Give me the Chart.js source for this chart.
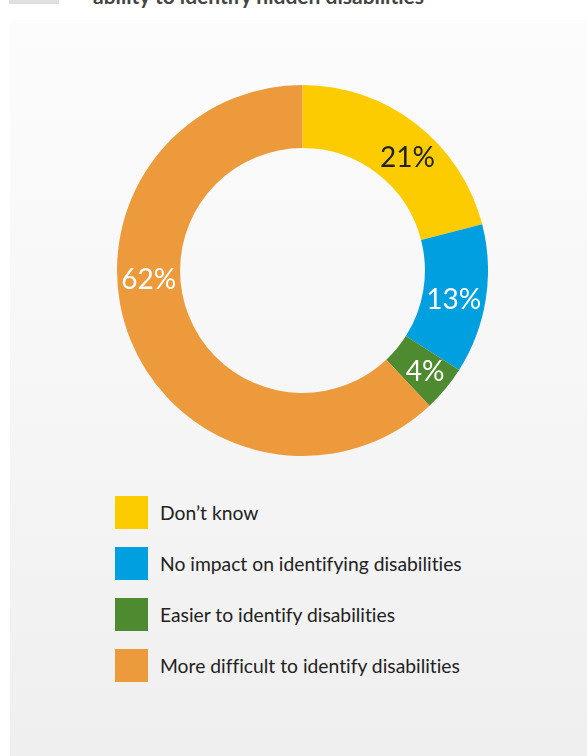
<!DOCTYPE html>
<html>
<head>
<meta charset="utf-8">
<script src="https://cdn.jsdelivr.net/npm/chart.js@4.4.1/dist/chart.umd.min.js"></script>
<style>
  html, body { margin: 0; padding: 0; background: #fff; }
  body { width: 587px; height: 756px; position: relative; overflow: hidden; font-family: Lato, "Open Sans", sans-serif;
         font-variant-ligatures: none; }
  .tab { position: absolute; left: 9px; top: 0; width: 50px; height: 4px; background: #e0e0e0; }
  .title { position: absolute; left: 93px; top: -17px; font-size: 21px; color: #444; font-weight: bold; white-space: nowrap; }
  .panel { position: absolute; left: 10px; top: 20px; right: 0; bottom: 0;
           background: linear-gradient(to bottom, #fcfcfc 0%, #f7f7f7 45%, #eeefee 100%); }
  #donut { position: absolute; left: 117px; top: 85px; }
  .legend { position: absolute; left: 115px; top: 496px; margin: 0; padding: 0; list-style: none; }
  .legend li { height: 33px; margin-bottom: 18px; display: flex; align-items: center; font-size: 19.3px; color: #222; }
  .legend .box { width: 33px; height: 33px; margin-right: 12px; flex: none; }
</style>
</head>
<body>
<div class="tab"></div>
<div class="title">ability to identify hidden disabilities</div>
<div class="panel"></div>
<canvas id="donut" width="371" height="371"></canvas>
<ul class="legend" id="legend"></ul>

<script>
// answers, share of respondents (%)
const categories = [
  "Don\u2019t know",
  "No impact on identifying disabilities",
  "Easier to identify disabilities",
  "More difficult to identify disabilities"
];
const shares = [21, 13, 4, 62];
const sliceColors = ["#fccc00", "#009fdf", "#4e8a2f", "#ec9a3c"];
const labelColors = ["#222222", "#ffffff", "#ffffff", "#ffffff"];

// percentage text inside each ring segment
const ringLabels = {
  id: "ringLabels",
  afterDatasetsDraw(chart, args, opts) {
    const ctx = chart.ctx;
    const meta = chart.getDatasetMeta(0);
    ctx.save();
    ctx.font = opts.font;
    ctx.textAlign = "center";
    ctx.textBaseline = "middle";
    meta.data.forEach((arc, i) => {
      const p = arc.getProps(["x", "y", "startAngle", "endAngle", "innerRadius", "outerRadius"], true);
      let a = (p.startAngle + p.endAngle) / 2;
      if (opts.angles[i] != null) a = (opts.angles[i] - 90) * Math.PI / 180;
      const r = (p.innerRadius + p.outerRadius) / 2 + (opts.shift[i] || 0);
      ctx.fillStyle = labelColors[i];
      ctx.fillText(shares[i] + "%", p.x + r * Math.cos(a), p.y + r * Math.sin(a));
    });
    ctx.restore();
  }
};

new Chart(document.getElementById("donut"), {
  type: "doughnut",
  data: {
    labels: categories,
    datasets: [{
      data: shares,
      backgroundColor: sliceColors,
      borderWidth: 0
    }]
  },
  options: {
    responsive: false,
    animation: false,
    cutout: "66%",
    layout: { padding: 0 },
    plugins: {
      legend: { display: false },
      tooltip: { enabled: false },
      ringLabels: {
        font: "28px Lato, 'Open Sans', sans-serif",
        angles: [43, 101, null, 266.5],
        shift: [0, 0, 5, 0]
      }
    }
  },
  plugins: [ringLabels]
});

// legend list
const legend = document.getElementById("legend");
categories.forEach((name, i) => {
  const li = document.createElement("li");
  li.innerHTML = '<span class="box" style="background:' + sliceColors[i] + '"></span>' + name;
  legend.appendChild(li);
});
</script>
</body>
</html>
